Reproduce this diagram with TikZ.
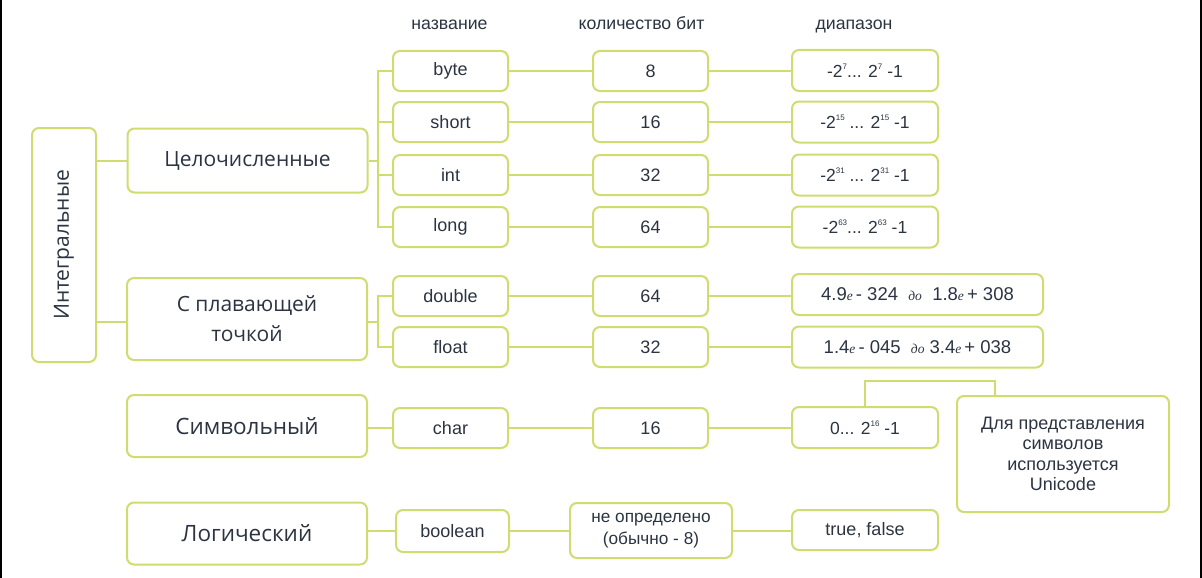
\documentclass[tikz,border=0pt]{standalone}
\usepackage{fontspec}
\setmainfont{Liberation Sans}
\newfontfamily\osans{Open Sans}
\newfontfamily\lserif{Liberation Serif}
\definecolor{gr}{RGB}{208,220,112}
\definecolor{tx}{RGB}{44,52,66}
\newcommand{\supx}[1]{\raisebox{0.85ex}{\fontsize{8}{8}\selectfont #1}}
\newcommand{\ee}{{\lserif\itshape\fontsize{13.5}{13.5}\selectfont e}}
\newcommand{\doo}{{\lserif\itshape\fontsize{13.5}{13.5}\selectfont до}}
\tikzset{
  box/.style={draw=gr, line width=2pt, rounded corners=7pt, fill=white, text=tx,
    align=center, inner sep=0pt, font=\fontsize{18}{21}\selectfont},
  cat/.style={box, minimum width=240pt, font=\osans\fontsize{21}{30}\selectfont},
  tbox/.style={box, minimum width=115pt, minimum height=40pt},
  rbox/.style={box, minimum width=146pt, minimum height=41pt, font=\fontsize{17.5}{21}\selectfont},
  wide/.style={box, minimum width=251pt, minimum height=41pt, font=\fontsize{18.5}{21}\selectfont},
  wire/.style={draw=gr, line width=2pt},
  head/.style={text=tx, font=\fontsize{17.7}{20}\selectfont, inner sep=0pt, anchor=base}
}
\begin{document}
\begin{tikzpicture}[x=1pt,y=-1pt]
\useasboundingbox (0,0) rectangle (1202,578);
\fill[black] (0,0) rectangle (2,578);
\fill[black] (1200,0) rectangle (1202,578);

% headers
\node[head] (h1) at (449.5,30) {название};
\node[head] (h2) at (641.5,30) {количество бит};
\node[head] (h3) at (854,30) {диапазон};

% left boxes
\node[box, minimum width=64pt, minimum height=234pt] (integ) at (64,245) {};
\node[text=tx, rotate=90, inner sep=0pt, font=\osans\fontsize{21}{24}\selectfont] (integl) at (integ.center) {Интегральные};
\node[cat, minimum height=64pt] (celo) at (247.5,160.5) {Целочисленные};
\node[cat, minimum height=82pt] (plav) at (247,319) {С плавающей\\точкой};
\node[cat, minimum height=62pt, font=\osans\fontsize{22.5}{30}\selectfont] (simv) at (247,426) {Символьный};
\node[cat, minimum height=62pt, font=\osans\fontsize{22.5}{30}\selectfont] (logic) at (247,533.5) {Логический};

% type boxes
\node[tbox] (byte) at (450.5,71) {byte};
\node[tbox] (short) at (450.5,122) {short};
\node[tbox] (int) at (450.5,175) {int};
\node[tbox] (long) at (450.5,227) {long};
\node[tbox] (double) at (450.5,296) {double};
\node[tbox] (float) at (450.5,347) {float};
\node[tbox] (char) at (450.5,428) {char};
\node[tbox, minimum width=113pt, minimum height=42pt] (bool) at (452.5,531) {boolean};

% bit boxes
\node[tbox] (b8) at (650.5,71) {8};
\node[tbox] (b16) at (650.5,122) {16};
\node[tbox] (b32) at (650.5,175) {32};
\node[tbox] (b64) at (650.5,227) {64};
\node[tbox] (bd) at (650.5,296) {64};
\node[tbox] (bf) at (650.5,347) {32};
\node[tbox] (bc) at (650.5,428) {16};
\node[box, minimum width=162pt, minimum height=55pt, font=\fontsize{17.2}{22}\selectfont] (bb) at (651,530.5) {не определено\\(обычно - 8)};

% range boxes
\node[rbox] (r8) at (865,70.5) {-2\supx{7}... 2\supx{7} -1};
\node[rbox] (r16) at (865,122) {-2\supx{15} ... 2\supx{15} -1};
\node[rbox] (r32) at (865,175) {-2\supx{31} ... 2\supx{31} -1};
\node[rbox] (r64) at (865,227) {-2\supx{63}... 2\supx{63} -1};
\node[wide] (rd) at (917.5,294.5) {4.9\ee\,- 324 \ \doo\ \ 1.8\ee\,+ 308};
\node[wide] (rf) at (917.5,347) {1.4\ee\,- 045 \ \doo\ 3.4\ee\,+ 038};
\node[rbox] (rc) at (865,427.5) {0... 2\supx{16} -1};
\node[rbox, minimum height=40pt, font=\fontsize{18}{21}\selectfont] (rb) at (865,530) {true, false};
\node[box, minimum width=212pt, minimum height=116pt, font=\fontsize{18}{20.5}\selectfont] (note) at (1063,454) {Для представления\\символов\\используется\\Unicode};

% connectors: left
\draw[wire] (celo.west) -- (celo.west -| integ.east);
\draw[wire] (plav.west |- 0,322) -- (integ.east |- 0,322);

% integer bus
\coordinate (bx) at (378,0);
\draw[wire] (byte.west) -- (byte.west -| bx) -- (long.west -| bx) -- (long.west);
\draw[wire] (short.west) -- (short.west -| bx);
\draw[wire] (int.west) -- (int.west -| bx);
\draw[wire] (celo.east) -- (celo.east -| bx);

% float bus
\draw[wire] (double.west) -- (double.west -| bx) -- (float.west -| bx) -- (float.west);
\draw[wire] (plav.east |- 0,322) -- (bx |- 0,322);

% symbol / logic
\draw[wire] (simv.east |- char.west) -- (char.west);
\draw[wire] (logic.east |- bool.west) -- (bool.west);

% rows
\foreach \a/\b/\c in {byte/b8/r8, short/b16/r16, int/b32/r32, long/b64/r64, double/bd/rd, float/bf/rf, char/bc/rc, bool/bb/rb}{
  \draw[wire] (\a.east) -- (\b.west |- \a.east);
  \draw[wire] (\b.east |- \a.east) -- (\c.west |- \a.east);
}

% note connector
\coordinate (nt) at (995,381);
\draw[wire] (rc.north) -- (rc.north |- nt) -- (nt) -- (nt |- note.north);
\end{tikzpicture}
\end{document}
